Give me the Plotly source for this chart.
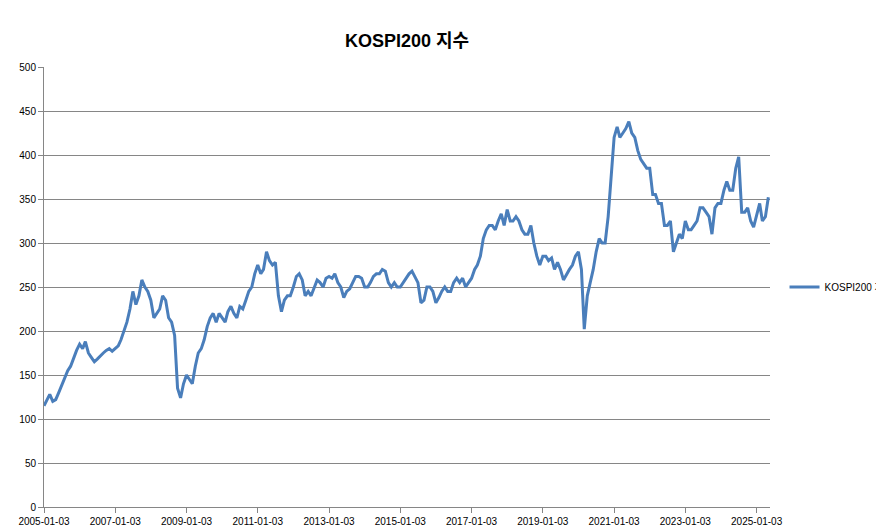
import pandas as pd
import plotly.graph_objects as go

# monthly approximate KOSPI200 values
years = list(range(2005, 2026))
values_by_year = {
    2005: [115, 122, 128, 120, 122, 130, 138, 145, 155, 160, 170, 178],
    2006: [185, 180, 188, 175, 170, 165, 168, 172, 175, 178, 180, 177],
    2007: [180, 183, 190, 200, 210, 225, 245, 230, 240, 258, 250, 245],
    2008: [235, 215, 220, 225, 240, 235, 215, 210, 195, 135, 124, 140],
    2009: [150, 145, 140, 160, 175, 180, 190, 205, 215, 220, 210, 220],
    2010: [215, 210, 222, 228, 220, 215, 228, 225, 235, 245, 250, 265],
    2011: [275, 265, 270, 290, 280, 275, 278, 240, 222, 235, 240, 240],
    2012: [250, 262, 265, 258, 240, 245, 240, 250, 258, 255, 250, 260],
    2013: [262, 260, 265, 255, 250, 238, 245, 248, 255, 262, 262, 260],
    2014: [250, 250, 255, 262, 265, 265, 270, 268, 255, 250, 255, 250],
    2015: [250, 255, 260, 265, 268, 262, 255, 232, 235, 250, 250, 245],
    2016: [232, 238, 245, 250, 245, 245, 255, 260, 255, 260, 250, 255],
    2017: [260, 270, 275, 285, 305, 315, 320, 320, 315, 325, 333, 320],
    2018: [338, 325, 325, 330, 325, 315, 310, 310, 320, 300, 285, 275],
    2019: [285, 285, 280, 283, 270, 278, 270, 258, 265, 270, 275, 285],
    2020: [290, 270, 202, 240, 255, 270, 290, 305, 300, 300, 330, 375],
    2021: [420, 432, 420, 425, 430, 438, 425, 420, 405, 395, 390, 385],
    2022: [385, 355, 355, 345, 345, 320, 320, 325, 290, 300, 310, 305],
    2023: [325, 315, 315, 320, 325, 340, 340, 335, 330, 310, 340, 345],
    2024: [345, 360, 370, 360, 360, 385, 398, 335, 335, 340, 325, 318],
    2025: [330, 345, 325, 330, 352],
}

dates = []
vals = []
for y in years:
    for m, v in enumerate(values_by_year[y]):
        dates.append(pd.Timestamp(y, m + 1, 3))
        vals.append(v)

tick_dates = [f"{y}-01-03" for y in range(2005, 2026, 2)]

font = "Liberation Sans, Noto Sans CJK KR"

fig = go.Figure()
fig.add_trace(go.Scatter(x=dates, y=vals, mode="lines", name="KOSPI200 지수",
                         line=dict(color="#4A7EBB", width=3)))

fig.update_layout(
    width=884, height=528,
    margin=dict(l=36, r=122, t=59, b=29, autoexpand=False),
    paper_bgcolor="white", plot_bgcolor="white",
    font=dict(family=font, size=10, color="#000"),
    title=dict(text="<b>KOSPI200 지수</b>", x=0.5, xref="paper", y=0.95,
               font=dict(size=18, family=font), automargin=False),
    showlegend=True,
    legend=dict(x=1.02, y=0.5, yanchor="middle", font=dict(size=10)),
    xaxis=dict(range=["2005-01-03", "2025-05-20"], tickvals=tick_dates, ticktext=tick_dates,
               showgrid=False, showline=True, linecolor="#868686", ticks="outside",
               tickcolor="#868686", ticklen=5, automargin=False),
    yaxis=dict(range=[0, 500], dtick=50, showgrid=True, gridcolor="#868686",
               showline=True, linecolor="#868686", ticks="outside", tickcolor="#868686",
               ticklen=5, zeroline=False, automargin=False),
)

fig.write_html("out.html")
